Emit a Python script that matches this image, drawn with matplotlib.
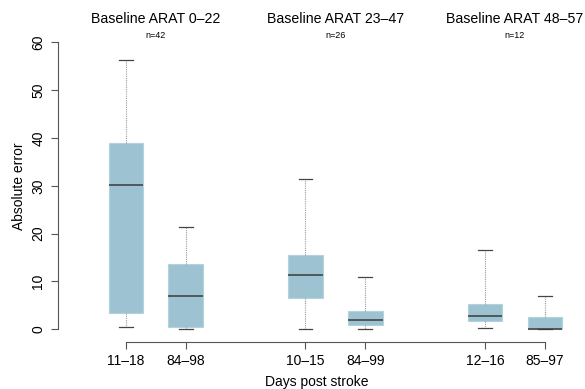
import numpy as np
import matplotlib.pyplot as plt

plt.rcParams['font.family'] = ['Liberation Sans', 'DejaVu Sans']

# box statistics (whisker low, Q1, median, Q3, whisker high)
labels = ['11\u201318', '84\u201398', '10\u201315', '84\u201399', '12\u201316', '85\u201397']
positions = [1, 2, 4, 5, 7, 8]
whislo = [0.5, 0.0, 0.0, 0.0, 0.35, 0.0]
q1 = [3.3, 0.5, 6.6, 0.9, 1.7, 0.0]
med = [30.1, 7.0, 11.4, 1.9, 2.8, 0.1]
q3 = [39.0, 13.7, 15.6, 3.8, 5.3, 2.5]
whishi = [56.2, 21.3, 31.4, 11.0, 16.6, 7.0]

groups = ['Baseline ARAT 0\u201322', 'Baseline ARAT 23\u201347', 'Baseline ARAT 48\u201357']
group_n = ['n=42', 'n=26', 'n=12']
group_centers = [1.5, 4.5, 7.5]

stats = []
for i in range(len(labels)):
    stats.append({'whislo': whislo[i], 'q1': q1[i], 'med': med[i],
                  'q3': q3[i], 'whishi': whishi[i], 'fliers': []})

fig = plt.figure(figsize=(5.85, 3.89), dpi=100)
ax = fig.add_axes([0.0986, 0.1216, 0.884, 0.7992])

ax.bxp(stats, positions=positions, widths=0.58, patch_artist=True,
       boxprops=dict(facecolor='#9dc3d3', edgecolor='#b4d2de', linewidth=0.8),
       medianprops=dict(color='#3a3a3a', linewidth=1.1),
       whiskerprops=dict(color='#999999', linestyle=(0, (1, 1)), linewidth=0.8),
       capprops=dict(color='#444444', linewidth=0.9),
       capwidths=0.23, showfliers=False)

ax.set_xlim(-0.14, 8.5)
ax.set_ylim(-2.6, 62.4)

for s in ['top', 'right']:
    ax.spines[s].set_visible(False)
ax.spines['left'].set_bounds(0, 60)
ax.spines['bottom'].set_bounds(1, 8)
ax.spines['left'].set_color('#555555')
ax.spines['bottom'].set_color('#555555')

ax.set_yticks([0, 10, 20, 30, 40, 50, 60])
ax.set_yticklabels(['0', '10', '20', '30', '40', '50', '60'], rotation=90, va='center')
ax.set_xticks(positions)
ax.set_xticklabels(labels)
ax.tick_params(labelsize=10, length=5, color='#555555', pad=4)

ax.set_ylabel('Absolute error', fontsize=10)
ax.set_xlabel('Days post stroke', fontsize=10, labelpad=5)

for c, g, n in zip(group_centers, groups, group_n):
    ax.text(c, 1.038, g, transform=ax.get_xaxis_transform(), ha='center', va='center', fontsize=10.2)
    ax.text(c, 0.9865, n, transform=ax.get_xaxis_transform(), ha='center', va='center', fontsize=6.5)

fig.savefig('out.png', dpi=100)
